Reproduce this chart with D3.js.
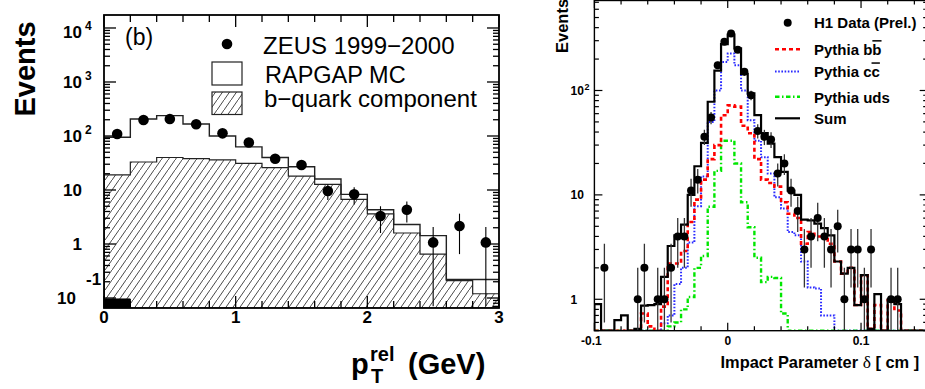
<!DOCTYPE html>
<html lang="en">
<head>
<meta charset="utf-8">
<script src="https://cdn.jsdelivr.net/npm/d3@7"></script>
<style>
  body { margin: 0; background: white; }
  svg { display: block; background: white; font-family: 'Liberation Sans', Arial, sans-serif; }
  .frame { fill: none; stroke: black; }
  .tick { stroke: black; }
</style>
</head>
<body>
<svg width="925" height="389"></svg>
<script>
// ---------- left panel: ZEUS p_T^rel ----------
const ptEdges  = [0, 0.2, 0.4, 0.6, 0.8, 1.0, 1.2, 1.4, 1.6, 1.8, 2.0, 2.2, 2.4, 2.6, 2.8, 3.0];
const zeusData = [109, 198, 206, 165, 112, 76, 38, 29, 9.6, 8.3, 3.3, 4.3, 1.07, 2.15, 1.07];
const zeusErr  = [10, 14, 14, 13, 10.5, 8.7, 6.2, 5.4, 3.1, 2.9, 1.7, 1.8, 1.0, 1.5, 1.0];
const rapgapMC = [95, 206, 238, 167, 100, 63, 40, 27, 16, 8.3, 4.3, 2.3, 1.43, 0.22, 0.22];
const bQuark   = [19, 33, 40, 38, 36, 31, 26, 18, 12.7, 6.7, 3.6, 1.6, 0.65, 0.21, 0.12];
const lightMC  = [0.096, 0, 0, 0, 0, 0, 0, 0, 0, 0, 0, 0, 0, 0, 0];
const leftXTicks = [0, 1, 2, 3];

// ---------- right panel: H1 impact parameter ----------
const ipStart = -0.1, ipBinWidth = 0.005;
const h1Bins = [1, 6, 7, 9, 10, 11, 12, 13, 14, 15, 16, 17, 18, 19, 20, 21, 22, 23, 24, 25, 26, 27, 28,
                29, 30, 31, 32, 33, 34, 35, 36, 37, 38, 39, 40, 41, 44, 45];
const h1Data = [2, 1, 2, 1, 1, 2, 4, 4, 11, 14, 36, 55, 175, 293, 352, 246, 151, 90, 41, 36, 34, 16, 20,
                11, 7, 3, 4, 6, 4, 3, 5, 1, 3, 3, 1, 3, 1, 1];
const h1Err  = [1.4, 1, 1.4, 1, 1, 1.4, 2, 2, 3.3, 3.7, 6, 7.4, 13.2, 17.1, 18.8, 15.7, 12.3, 9.5, 6.4, 6, 5.8, 4, 4.5,
                3.3, 2.6, 1.7, 2, 2.4, 2, 1.7, 2.2, 1, 1.7, 1.7, 1, 1.7, 1, 1];
const sumMC  = [0.9, 0, 0, 0.63, 0.7, 0, 0.52, 0.87, 0.88, 0.9, 1.64, 3.24, 4.1, 5.2, 10, 18.8, 31.5, 78, 155, 278,
                343, 253, 144, 94, 58, 39, 31, 23, 16.6, 11, 10, 5.8, 5.7, 5.3, 4.8, 4.1, 2.3, 1.76, 2.0, 0.88,
                1.7, 0.52, 1.12, 0, 1.0, 0.9, 0, 0, 0, 0];
const bbMC   = [0, 0, 0, 0, 0, 0, 0, 0.73, 0.55, 0, 0.85, 2.2, 2.2, 2.9, 5.5, 9, 14, 22, 30, 58,
                72, 70, 46, 39, 22, 14, 13, 12, 8.5, 6.6, 6, 3.4, 4.4, 4.0, 4.1, 3.4, 2.3, 1.76, 2.0, 0.88,
                1.7, 0.52, 0.88, 0, 0.98, 0.78, 0, 0, 0, 0];
const ccMC   = [0, 0, 0, 0, 0, 0, 0, 0, 0, 0, 0.59, 0.7, 1.4, 2.0, 3.5, 7.8, 15, 50, 100, 188,
                226, 175, 100, 52, 33, 23, 16, 9.5, 7.4, 4.4, 4.1, 2.3, 1.3, 1.27, 0.7, 0.7, 0, 0, 0, 0,
                0, 0, 0, 0, 0, 0, 0, 0, 0, 0];
const udsMC  = [0, 0, 0, 0, 0, 0, 0, 0, 0, 0, 0, 0.55, 0.6, 0.8, 1.05, 2.0, 2.6, 7.7, 17, 33,
                33, 20, 8.5, 4.9, 2.5, 1.46, 1.64, 1.6, 0.73, 0, 0, 0, 0, 0, 0, 0, 0, 0, 0, 0,
                0, 0, 0, 0, 0, 0, 0, 0, 0, 0];
const rightXTicks = [-0.1, 0, 0.1];

const svg = d3.select("svg");
const defs = svg.append("defs");

// hatch for b-quark component
defs.append("pattern")
    .attr("id", "hatch")
    .attr("patternUnits", "userSpaceOnUse")
    .attr("width", 7).attr("height", 10)
  .append("path")
    .attr("d", "M-0.7,11 L7.7,-1")
    .attr("stroke", "#333").attr("stroke-width", 0.9);

function logTicks(lo, hi) {
  const out = [];
  for (let e = Math.floor(Math.log10(lo)); e <= Math.ceil(Math.log10(hi)); e++)
    for (let m = 1; m <= 9; m++) {
      const v = m * Math.pow(10, e);
      if (v >= lo * 0.999 && v <= hi * 1.001) out.push({v: v, major: m === 1, e: e});
    }
  return out;
}

// histogram step path, values <= ymin drop to the bottom
function stepPath(edges, vals, x, y) {
  const lo = y.domain()[0];
  const yy = v => v > lo ? y(v) : y(lo);
  let d = "M" + x(edges[0]) + "," + y(lo);
  vals.forEach((v, i) => {
    d += "L" + x(edges[i]) + "," + yy(v) + "L" + x(edges[i + 1]) + "," + yy(v);
  });
  d += "L" + x(edges[vals.length]) + "," + y(lo);
  return d;
}

// ================= LEFT PANEL =================
const xL = d3.scaleLinear().domain([0, 3]).range([104, 499]);
const yL = d3.scaleLog().domain([0.0653, 17400]).range([308, 15]).clamp(true);

defs.append("clipPath").attr("id", "clipL")
  .append("rect").attr("x", 104).attr("y", 15).attr("width", 395).attr("height", 293);

const gL = svg.append("g");
const plotL = gL.append("g").attr("clip-path", "url(#clipL)");

plotL.append("path")
    .attr("d", stepPath(ptEdges, rapgapMC, xL, yL))
    .attr("fill", "none").attr("stroke", "#222").attr("stroke-width", 1.4);

plotL.append("path")
    .attr("d", stepPath(ptEdges, bQuark, xL, yL))
    .attr("fill", "url(#hatch)").attr("stroke", "#222").attr("stroke-width", 1.2);

plotL.append("path")
    .attr("d", stepPath(ptEdges, lightMC, xL, yL))
    .attr("fill", "black").attr("stroke", "black").attr("stroke-width", 1);

// data
const ptCenters = zeusData.map((d, i) => (ptEdges[i] + ptEdges[i + 1]) / 2);
plotL.selectAll(".ebar").data(zeusData).join("line")
    .attr("x1", (d, i) => xL(ptCenters[i])).attr("x2", (d, i) => xL(ptCenters[i]))
    .attr("y1", (d, i) => yL(d + zeusErr[i]))
    .attr("y2", (d, i) => d - zeusErr[i] > 0 ? yL(d - zeusErr[i]) : 310)
    .attr("stroke", "black").attr("stroke-width", 1.1);
plotL.selectAll(".pt").data(zeusData).join("circle")
    .attr("cx", (d, i) => xL(ptCenters[i])).attr("cy", d => yL(d))
    .attr("r", 5.3).attr("fill", "black");

// frame and ticks
gL.append("rect").attr("class", "frame")
    .attr("x", 104).attr("y", 15).attr("width", 395).attr("height", 293)
    .attr("stroke-width", 1.8);

const xMinorL = d3.range(0, 16).map(i => i * 0.2);
xMinorL.forEach(v => {
  const major = Math.abs(v - Math.round(v)) < 1e-6;
  const len = major ? 12 : 7;
  gL.append("line").attr("class", "tick").attr("stroke-width", 1.3)
    .attr("x1", xL(v)).attr("x2", xL(v)).attr("y1", 308).attr("y2", 308 - len);
  gL.append("line").attr("class", "tick").attr("stroke-width", 1.3)
    .attr("x1", xL(v)).attr("x2", xL(v)).attr("y1", 15).attr("y2", 15 + len);
});
logTicks(0.0653, 17400).forEach(t => {
  const len = t.major ? 12 : 6;
  gL.append("line").attr("class", "tick").attr("stroke-width", 1.3)
    .attr("x1", 104).attr("x2", 104 + len).attr("y1", yL(t.v)).attr("y2", yL(t.v));
  gL.append("line").attr("class", "tick").attr("stroke-width", 1.3)
    .attr("x1", 499).attr("x2", 499 - len).attr("y1", yL(t.v)).attr("y2", yL(t.v));
});

// y labels
[-1, 0, 1, 2, 3, 4].forEach(e => {
  let yc = yL(Math.pow(10, e));
  if (e === 4) yc += 4;
  const t = gL.append("text").attr("font-weight", "bold").attr("font-size", 17)
      .attr("y", yc + 6);
  if (e === 0) {
    t.attr("x", 82).attr("text-anchor", "end").text("1");
  } else if (e === 1) {
    t.attr("x", 82).attr("text-anchor", "end").text("10");
  } else if (e === -1) {
    t.attr("x", 76).attr("text-anchor", "end").text("10");
    gL.append("text").attr("font-weight", "bold").attr("font-size", 17)
      .attr("x", 86).attr("y", yc - 13).text("-1");
  } else {
    t.attr("x", 82).attr("text-anchor", "end").text("10");
    gL.append("text").attr("font-weight", "bold").attr("font-size", 12)
      .attr("x", 85).attr("y", yc - 2).text(String(e));
  }
});
// x labels
leftXTicks.forEach(v => {
  gL.append("text").attr("font-weight", "bold").attr("font-size", 17)
    .attr("x", xL(v)).attr("y", 323).attr("text-anchor", "middle").text(String(v));
});

// titles
gL.append("text").attr("font-weight", "bold").attr("font-size", 29)
    .attr("transform", "translate(35,69) rotate(-90)")
    .attr("text-anchor", "middle").text("Events");
gL.append("text").attr("font-weight", "bold").attr("font-size", 29)
    .attr("x", 351).attr("y", 374).text("p");
gL.append("text").attr("font-weight", "bold").attr("font-size", 20)
    .attr("x", 370).attr("y", 361).text("rel");
gL.append("text").attr("font-weight", "bold").attr("font-size", 20)
    .attr("x", 371).attr("y", 383).text("T");
gL.append("text").attr("font-weight", "bold").attr("font-size", 29)
    .attr("x", 408).attr("y", 374).text("(GeV)");

gL.append("text").attr("font-size", 23).attr("x", 125).attr("y", 45).text("(b)");

// legend
gL.append("circle").attr("cx", 227).attr("cy", 44).attr("r", 5.3).attr("fill", "black");
gL.append("rect").attr("x", 212).attr("y", 62).attr("width", 30).attr("height", 23)
    .attr("fill", "white").attr("stroke", "#222").attr("stroke-width", 1.2);
gL.append("rect").attr("x", 212).attr("y", 92).attr("width", 30).attr("height", 22.5)
    .attr("fill", "url(#hatch)").attr("stroke", "#222").attr("stroke-width", 1.2);
gL.append("text").attr("font-size", 24).attr("x", 263).attr("y", 54).text("ZEUS 1999\u22122000");
gL.append("text").attr("font-size", 23.5).attr("x", 265).attr("y", 83).text("RAPGAP MC");
gL.append("text").attr("font-size", 24).attr("x", 264).attr("y", 107).text("b\u2212quark component");

// ================= RIGHT PANEL =================
const xR = d3.scaleLinear().domain([-0.1, 0.15]).range([594.4, 927.7]);
const yR = d3.scaleLog().domain([0.5, 720]).range([330.7, 1]).clamp(true);
const ipEdges = sumMC.map((d, i) => ipStart + i * ipBinWidth).concat([ipStart + sumMC.length * ipBinWidth]);

defs.append("clipPath").attr("id", "clipR")
  .append("rect").attr("x", 594.4).attr("y", 0).attr("width", 333.3).attr("height", 330.7);

const gR = svg.append("g");
const plotR = gR.append("g").attr("clip-path", "url(#clipR)");

const series = [
  {vals: udsMC, color: "#00e600", dash: "4.5,2.5,1.5,2.5", w: 2.4},
  {vals: ccMC,  color: "#2a2aff", dash: "1.6,1.6", w: 2.0},
  {vals: bbMC,  color: "#ff0000", dash: "4,3", w: 2.6},
  {vals: sumMC, color: "black",   dash: null, w: 2.2}
];
series.forEach(s => {
  plotR.append("path")
    .attr("d", stepPath(ipEdges, s.vals, xR, yR))
    .attr("fill", "none").attr("stroke", s.color).attr("stroke-width", s.w)
    .attr("stroke-dasharray", s.dash);
});

const ipCenters = h1Bins.map(k => ipStart + (k + 0.5) * ipBinWidth);
plotR.selectAll(".ebarR").data(h1Data).join("line")
    .attr("x1", (d, i) => xR(ipCenters[i])).attr("x2", (d, i) => xR(ipCenters[i]))
    .attr("y1", (d, i) => yR(d + h1Err[i]))
    .attr("y2", (d, i) => d - h1Err[i] > 0.5 ? yR(d - h1Err[i]) : 332)
    .attr("stroke", "#333").attr("stroke-width", 1.3);
plotR.selectAll(".ptR").data(h1Data).join("circle")
    .attr("cx", (d, i) => xR(ipCenters[i])).attr("cy", d => yR(d))
    .attr("r", 4).attr("fill", "black");

gR.append("rect").attr("class", "frame")
    .attr("x", 594.4).attr("y", 0.5).attr("width", 333.3).attr("height", 330.2)
    .attr("stroke-width", 1.4);

d3.range(0, 13).map(i => -0.1 + i * 0.02).forEach(v => {
  const major = Math.abs(v * 10 - Math.round(v * 10)) < 1e-6;
  const len = major ? 8 : 4.5;
  gR.append("line").attr("class", "tick").attr("stroke-width", 1.2)
    .attr("x1", xR(v)).attr("x2", xR(v)).attr("y1", 330.7).attr("y2", 330.7 - len);
  gR.append("line").attr("class", "tick").attr("stroke-width", 1.2)
    .attr("x1", xR(v)).attr("x2", xR(v)).attr("y1", 0).attr("y2", len);
});
logTicks(0.5, 720).forEach(t => {
  const len = t.major ? 8 : 4.5;
  gR.append("line").attr("class", "tick").attr("stroke-width", 1.2)
    .attr("x1", 594.4).attr("x2", 594.4 + len).attr("y1", yR(t.v)).attr("y2", yR(t.v));
  gR.append("line").attr("class", "tick").attr("stroke-width", 1.2)
    .attr("x1", 927.7).attr("x2", 927.7 - len).attr("y1", yR(t.v)).attr("y2", yR(t.v));
});

// y labels
[["1", 0], ["10", 1], ["10", 2]].forEach(([s, e]) => {
  const yc = yR(Math.pow(10, e));
  gR.append("text").attr("font-weight", "bold").attr("font-size", 12)
    .attr("x", 570.5).attr("y", yc + 4.5).text(s);
  if (e === 2)
    gR.append("text").attr("font-weight", "bold").attr("font-size", 9)
      .attr("x", 584.5).attr("y", yc - 0.5).text("2");
});
rightXTicks.forEach(v => {
  gR.append("text").attr("font-weight", "bold").attr("font-size", 12)
    .attr("x", xR(v) - (v < 0 ? 3 : 0)).attr("y", 345).attr("text-anchor", "middle")
    .text(v < 0 ? "-0.1" : String(v));
});

gR.append("text").attr("font-weight", "bold").attr("font-size", 16.5)
    .attr("transform", "translate(568,53) rotate(-90)").text("Events");

const xt = gR.append("text").attr("font-weight", "bold").attr("font-size", 16.4)
    .attr("x", 720.5).attr("y", 368);
xt.append("tspan").text("Impact Parameter ");
xt.append("tspan").attr("font-family", "'Liberation Serif', 'DejaVu Serif', serif")
    .attr("font-weight", "normal").attr("font-size", 17.5).text("\u03b4");
xt.append("tspan").text(" [ cm ]");

// legend
const legR = gR.append("g").attr("font-weight", "bold").attr("font-size", 15);
legR.append("circle").attr("cx", 787.7).attr("cy", 22.7).attr("r", 4).attr("fill", "black");
legR.append("text").attr("x", 814).attr("y", 28.3).text("H1 Data (Prel.)");
const legLines = [
  {label: ["Pythia b", "b"], color: "#ff0000", dash: "4,3", w: 2.6, y: 49.3},
  {label: ["Pythia c", "c"], color: "#2a2aff", dash: "1.6,1.6", w: 2.0, y: 71.5},
  {label: ["Pythia uds", ""], color: "#00e600", dash: "4.5,2.5,1.5,2.5", w: 2.4, y: 96.7},
  {label: ["Sum", ""], color: "black", dash: null, w: 2.2, y: 118.3}
];
legLines.forEach(l => {
  legR.append("line").attr("x1", 775).attr("x2", 800).attr("y1", l.y).attr("y2", l.y)
    .attr("stroke", l.color).attr("stroke-width", l.w).attr("stroke-dasharray", l.dash);
  const t = legR.append("text").attr("x", 814).attr("y", l.y + 5.8);
  t.append("tspan").text(l.label[0]);
  if (l.label[1]) {
    t.append("tspan").attr("text-decoration", "overline").text(l.label[1]);
  }
});
</script>
</body>
</html>
